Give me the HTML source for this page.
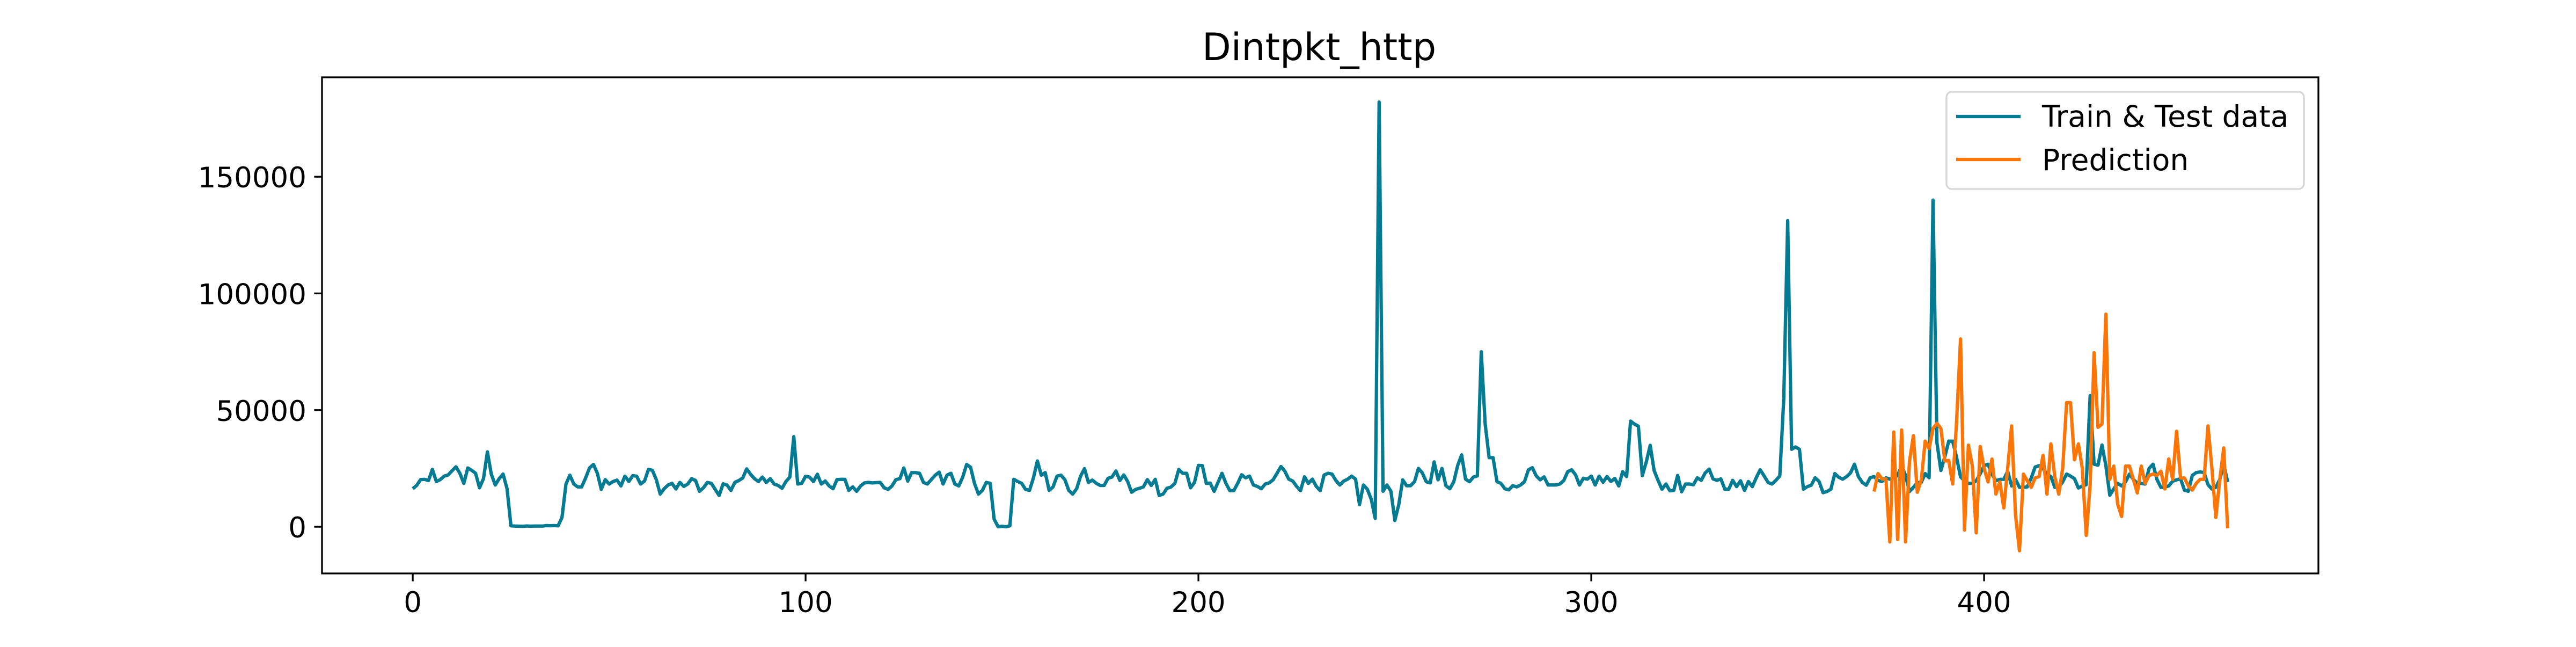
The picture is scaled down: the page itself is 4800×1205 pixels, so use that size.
<!DOCTYPE html>
<html><head><meta charset="utf-8"><style>
html,body{margin:0;padding:0;background:#fff;}
svg text{font-family:"DejaVu Sans","Liberation Sans",sans-serif;}
</style></head><body>
<svg id="chart" xmlns="http://www.w3.org/2000/svg" width="4800" height="1200" viewBox="0 0 4800 1200">
<rect width="4800" height="1200" fill="#fff"/>
<text x="2458" y="112" font-size="70" text-anchor="middle">Dintpkt_http</text>
<g id="plot"></g>
<g id="axes"></g>
<g>
<rect x="3627" y="171" width="666" height="181" rx="10" fill="#fff" fill-opacity="0.8" stroke="#d6d6d6" stroke-width="3.3"/>
<line x1="3645" y1="217" x2="3765" y2="217" stroke="#027b93" stroke-width="6.25"/>
<text x="3805" y="236" font-size="55">Train &amp; Test data</text>
<line x1="3645" y1="297" x2="3765" y2="297" stroke="#fb7507" stroke-width="6.25"/>
<text x="3805" y="317" font-size="55">Prediction</text>
</g>
</svg>
<script>
const actual = [16300,17700,20200,20300,19800,24600,19400,20200,21700,22200,24000,25700,22900,18600,25200,24200,22900,16700,20600,32100,
22500,17900,20600,22600,16300,400,300,250,200,350,250,300,300,300,500,450,500,400,4000,18300,
22100,18300,17100,17100,20900,25200,26700,22900,16000,20200,18300,19400,20000,17500,21700,19400,21900,21700,18300,19600,
24600,24200,20200,14000,16300,17900,18600,16200,19000,17300,18300,20600,19800,15200,16700,19000,18600,16000,13400,18400,
17900,15600,19000,19800,20900,24800,22500,20600,19400,21300,19000,20600,18300,17700,16500,19400,21300,38600,18300,18600,
21600,21300,19400,22500,18300,19600,17500,16300,20200,20300,20300,15600,17100,15200,17500,18800,19000,18800,18900,19000,
16700,16000,17500,20200,20600,25200,19600,23200,23200,22900,19000,18300,20200,22100,23400,18300,22100,22900,18300,17500,
21300,26700,25500,18600,14000,15600,19000,18600,3300,0,200,0,400,20300,19400,18600,16000,15600,20900,28200,
22100,23200,15600,17100,21700,22100,20200,15600,14000,16300,21700,24900,19000,20000,18600,17700,17700,20800,21300,23900,
19800,22200,19400,14800,16000,16500,17100,20200,17700,20300,13400,14000,16500,17000,18600,24600,22900,22900,16700,19000,
26300,26200,18600,18700,15200,19100,22900,18600,15500,15500,18600,22300,21000,21700,17900,17300,16300,18300,18800,20100,
22900,25800,23800,20400,19600,17300,15500,21400,18600,20400,17300,15500,22200,22900,22600,19800,17900,19600,20400,21700,
20400,9500,17900,16100,11700,3600,182000,15200,17900,15200,2700,9500,20100,17600,17600,19300,25000,23100,19300,18800,
27800,20100,25000,17600,16300,19300,26300,30800,20400,19300,21300,21800,75000,44000,29600,29600,19300,18600,16300,15800,
17600,17100,17900,19300,24400,25300,21800,20100,21400,17900,17900,17900,18300,19800,23600,24400,22300,17900,20800,20400,
21700,17900,21700,19100,21500,19400,20700,17500,23600,21500,45300,44000,43100,21900,27800,34900,24100,19900,16100,18300,
15400,15600,22000,15000,18300,18300,18000,21000,19900,23100,24700,20500,19900,20500,16100,16100,19900,17200,19700,15600,
19400,17200,21000,24400,21800,19000,18300,19900,21800,55000,131200,33200,34200,33200,16100,17200,17800,21000,19400,14600,
15100,16100,22800,21200,20400,21500,23100,26800,21500,19000,17800,21000,21500,19900,19400,21000,20400,21000,22000,26300,
22000,15100,16900,18900,19000,22800,21000,140000,36000,24100,30000,36700,36700,29700,21400,19700,18600,18600,19700,22700,
26200,26800,22600,19700,20300,20300,23800,17500,20300,16900,16900,17100,20900,25600,26200,25000,22600,21500,16900,16900,
19200,22600,21700,20600,16600,17500,18000,56200,26800,26400,35000,26200,13500,16200,18600,17500,19200,22600,20300,18600,
18600,18300,25000,26800,20300,16900,16900,17500,19500,20100,20600,15700,15200,22000,23200,23500,23200,18000,16200,16900,
20300,26800,19200];
const predStart = 372;
const prediction = [15100,22800,20500,20500,-6500,40600,-5500,41500,-6500,27900,39000,14800,20000,36700,33500,42100,44300,42100,28200,28400,
18300,45000,80500,-1400,35000,26200,-2600,34400,25000,19200,29000,14000,19200,8100,25000,43200,5100,-10300,22600,19700,
16900,20900,21500,30600,14000,35500,21500,14000,25000,53200,53200,28700,35500,25000,-3700,18000,74600,42600,44000,91100,
20300,26000,9700,4400,26000,26000,20300,14500,26000,18600,22000,22600,22000,23800,16200,29000,20300,40900,20900,20900,
17500,15700,18600,20300,20300,43200,25000,4000,20300,33800,-700];
const xTicks = [0,100,200,300,400];
const yTicks = [0,50000,100000,150000];

const L=600,R=4320,T=144,B=1068;
const xMin=-23.1,xMax=485.1,yMin=-20000,yMax=192600;
const X=v=>L+(v-xMin)/(xMax-xMin)*(R-L);
const Y=v=>B-(v-yMin)/(yMax-yMin)*(B-T);
const NS='http://www.w3.org/2000/svg';
const plot=document.getElementById('plot'), axes=document.getElementById('axes');
function mk(tag,attrs,parent){const e=document.createElementNS(NS,tag);for(const k in attrs)e.setAttribute(k,attrs[k]);parent.appendChild(e);return e;}

let d1=actual.map((v,i)=>(i?'L':'M')+X(i).toFixed(1)+' '+Y(v).toFixed(1)).join('');
const p1=mk('path',{d:d1,fill:'none',stroke:'#027b93','stroke-width':6.25,'stroke-linejoin':'round','stroke-linecap':'butt'},plot);


let d2=prediction.map((v,i)=>(i?'L':'M')+X(predStart+i).toFixed(1)+' '+Y(v).toFixed(1)).join('');
const p2=mk('path',{d:d2,fill:'none',stroke:'#fb7507','stroke-width':6.25,'stroke-linejoin':'round','stroke-linecap':'butt'},plot);



const frame=mk('rect',{x:L,y:T,width:R-L,height:B-T,fill:'none',stroke:'#000','stroke-width':3.3},axes);


xTicks.forEach(t=>{
  const x=X(t);
  const tk=mk('line',{x1:x,y1:B,x2:x,y2:B+14.6,stroke:'#000','stroke-width':3.3},axes);
  
  
  const tx=mk('text',{x:x,y:B+72,'font-size':53,'text-anchor':'middle'},axes);
  tx.textContent=t;
  
  
});
yTicks.forEach(t=>{
  const y=Y(t);
  const tk=mk('line',{x1:L-14.6,y1:y,x2:L,y2:y,stroke:'#000','stroke-width':3.3},axes);
  
  
  const tx=mk('text',{x:L-29,y:y+20,'font-size':53,'text-anchor':'end'},axes);
  tx.textContent=t;
  
  
});
</script>
</body></html>
